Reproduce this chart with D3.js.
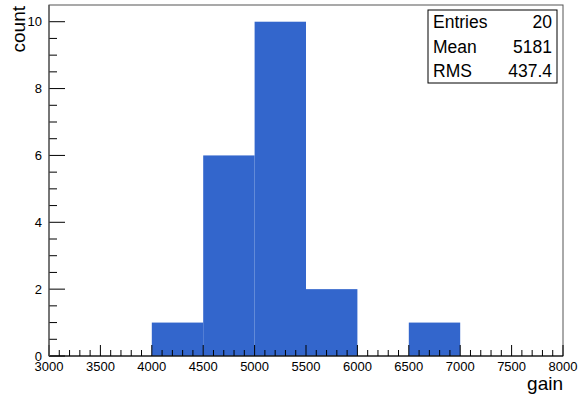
<!DOCTYPE html>
<html>
<head>
<meta charset="utf-8">
<script src="https://cdn.jsdelivr.net/npm/d3@7"></script>
<style>
  body { margin: 0; background: #fff; }
  text { font-family: "Liberation Sans", Arial, sans-serif; }
</style>
</head>
<body>
<script>
// histogram bins (lower edges) and contents
var binLow = [3000, 3500, 4000, 4500, 5000, 5500, 6000, 6500, 7000, 7500];
var binWidth = 500;
var counts = [0, 0, 1, 6, 10, 2, 0, 1, 0, 0];
var xTicks = [3000, 3500, 4000, 4500, 5000, 5500, 6000, 6500, 7000, 7500, 8000];
var yTicks = [0, 2, 4, 6, 8, 10];
var statNames = ["Entries", "Mean", "RMS"];
var statValues = ["20", "5181", "437.4"];

var W = 581, H = 396;
var frame = {left: 49, right: 563, top: 5, bottom: 356};

var svg = d3.select("body").append("svg")
    .attr("width", W)
    .attr("height", H);

var x = d3.scaleLinear().domain([3000, 8000]).range([frame.left, frame.right]);
var y = d3.scaleLinear().domain([0, 10.5]).range([frame.bottom, frame.top]);

//bars
svg.selectAll("rect.bin")
    .data(binLow.map(function (d, i) { return {x0: d, x1: d + binWidth, n: counts[i]}; })
        .filter(function (d) { return d.n > 0; }))
    .enter().append("rect")
    .attr("class", "bin")
    .attr("x", function (d) { return x(d.x0); })
    .attr("y", function (d) { return y(d.n); })
    .attr("width", function (d) { return x(d.x1) - x(d.x0); })
    .attr("height", function (d) { return y(0) - y(d.n); })
    .attr("fill", "#3366cc");

//frame
svg.append("rect")
    .attr("x", frame.left).attr("y", frame.top)
    .attr("width", frame.right - frame.left)
    .attr("height", frame.bottom - frame.top)
    .attr("fill", "none")
    .attr("stroke", "#555")
    .attr("stroke-width", 1);

//x axis: ticks drawn inward (upward)
var xMinor = d3.range(3000, 8001, 100);
var gx = svg.append("g").attr("transform", "translate(0," + frame.bottom + ")");
gx.selectAll("line.minor").data(xMinor).enter().append("line")
    .attr("x1", function (d) { return x(d); }).attr("x2", function (d) { return x(d); })
    .attr("y1", 0)
    .attr("y2", function (d) { return d % 500 === 0 ? -11 : -6; })
    .attr("stroke", "#000").attr("stroke-width", 1);
gx.append("line").attr("x1", frame.left).attr("x2", frame.right)
    .attr("stroke", "#000").attr("stroke-width", 1.2);
gx.selectAll("text").data(xTicks).enter().append("text")
    .attr("x", function (d) { return x(d); })
    .attr("y", 15)
    .attr("text-anchor", "middle")
    .attr("font-size", 13)
    .text(function (d) { return d; });

//y axis
var yMinor = d3.range(0, 10.01, 0.5);
var gy = svg.append("g").attr("transform", "translate(" + frame.left + ",0)");
gy.selectAll("line").data(yMinor).enter().append("line")
    .attr("y1", function (d) { return y(d); }).attr("y2", function (d) { return y(d); })
    .attr("x1", 0)
    .attr("x2", function (d) { return d % 2 === 0 ? 16 : 8; })
    .attr("stroke", "#000").attr("stroke-width", 1);
gy.append("line").attr("y1", frame.top).attr("y2", frame.bottom)
    .attr("stroke", "#555").attr("stroke-width", 1.2);
gy.selectAll("text").data(yTicks).enter().append("text")
    .attr("x", -7)
    .attr("y", function (d) { return y(d) + 4.5; })
    .attr("text-anchor", "end")
    .attr("font-size", 13)
    .text(function (d) { return d; });

//axis titles
svg.append("text")
    .attr("transform", "translate(25,6) rotate(-90)")
    .attr("text-anchor", "end")
    .attr("font-size", 19)
    .text("count");
svg.append("text")
    .attr("x", frame.right)
    .attr("y", 390)
    .attr("text-anchor", "end")
    .attr("font-size", 19)
    .text("gain");

//stats box
var box = {x: 428, y: 10, w: 129, h: 73};
svg.append("rect")
    .attr("x", box.x).attr("y", box.y)
    .attr("width", box.w).attr("height", box.h)
    .attr("fill", "#fff").attr("stroke", "#000").attr("stroke-width", 1);
var rowH = box.h / statNames.length;
svg.selectAll("text.sname").data(statNames).enter().append("text")
    .attr("class", "sname")
    .attr("x", box.x + 5)
    .attr("y", function (d, i) { return box.y + rowH * i + rowH / 2 + 6; })
    .attr("font-size", 17.5)
    .text(function (d) { return d; });
svg.selectAll("text.sval").data(statValues).enter().append("text")
    .attr("class", "sval")
    .attr("x", box.x + box.w - 5)
    .attr("y", function (d, i) { return box.y + rowH * i + rowH / 2 + 6; })
    .attr("text-anchor", "end")
    .attr("font-size", 17.5)
    .text(function (d) { return d; });
</script>
</body>
</html>
